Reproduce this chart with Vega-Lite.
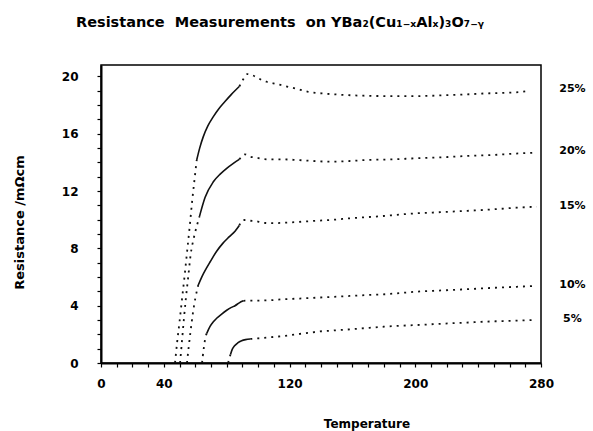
{
  "$schema": "https://vega.github.io/schema/vega-lite/v6.json",
  "width": 440,
  "height": 298,
  "autosize": {"type": "none"},
  "padding": {"left": 101, "top": 65, "right": 52, "bottom": 68},
  "background": "white",
  "config": {"view": {"stroke": "black", "strokeWidth": 1.5}, "font": "DejaVu Sans"},
  "title": {
    "text": "Resistance\u00a0\u00a0Measurements\u00a0\u00a0on YBa₂(Cu₁₋ₓAlₓ)₃O₇₋ᵧ",
    "anchor": "start", "frame": "group", "dx": -25, "offset": 24, "baseline": "alphabetic",
    "fontSize": 14.5, "fontWeight": "bold", "font": "DejaVu Sans", "color": "black"
  },
  "datasets": {
    "curves": [
      {"seg": "25a", "s": "dot", "T": 47.1, "R": 0},
      {"seg": "25a", "s": "dot", "T": 48.4, "R": 1.4},
      {"seg": "25a", "s": "dot", "T": 50.0, "R": 2.9},
      {"seg": "25a", "s": "dot", "T": 51.7, "R": 4.6},
      {"seg": "25a", "s": "dot", "T": 53.4, "R": 6.3},
      {"seg": "25a", "s": "dot", "T": 55.0, "R": 8.0},
      {"seg": "25a", "s": "dot", "T": 56.6, "R": 9.7},
      {"seg": "25a", "s": "dot", "T": 58.0, "R": 11.3},
      {"seg": "25a", "s": "dot", "T": 59.5, "R": 12.8},
      {"seg": "25a", "s": "dot", "T": 60.9, "R": 14.17},
      {"seg": "25b", "s": "solid", "T": 60.9, "R": 14.17},
      {"seg": "25b", "s": "solid", "T": 62.8, "R": 15.0},
      {"seg": "25b", "s": "solid", "T": 65.1, "R": 15.8},
      {"seg": "25b", "s": "solid", "T": 68.0, "R": 16.55},
      {"seg": "25b", "s": "solid", "T": 71.5, "R": 17.2},
      {"seg": "25b", "s": "solid", "T": 75.0, "R": 17.75},
      {"seg": "25b", "s": "solid", "T": 78.9, "R": 18.25},
      {"seg": "25b", "s": "solid", "T": 83.0, "R": 18.75},
      {"seg": "25b", "s": "solid", "T": 88.0, "R": 19.3},
      {"seg": "25c", "s": "dot", "T": 88.0, "R": 19.3},
      {"seg": "25c", "s": "dot", "T": 90.5, "R": 19.8},
      {"seg": "25c", "s": "dot", "T": 93.1, "R": 20.17},
      {"seg": "25c", "s": "dot", "T": 95.9, "R": 20.1},
      {"seg": "25c", "s": "dot", "T": 99.1, "R": 19.94},
      {"seg": "25c", "s": "dot", "T": 102.3, "R": 19.75},
      {"seg": "25c", "s": "dot", "T": 105.5, "R": 19.63},
      {"seg": "25c", "s": "dot", "T": 111.8, "R": 19.47},
      {"seg": "25c", "s": "dot", "T": 117.1, "R": 19.33},
      {"seg": "25c", "s": "dot", "T": 123.5, "R": 19.17},
      {"seg": "25c", "s": "dot", "T": 131.9, "R": 18.93},
      {"seg": "25c", "s": "dot", "T": 140.5, "R": 18.82},
      {"seg": "25c", "s": "dot", "T": 148.9, "R": 18.75},
      {"seg": "25c", "s": "dot", "T": 156.4, "R": 18.7},
      {"seg": "25c", "s": "dot", "T": 169.1, "R": 18.65},
      {"seg": "25c", "s": "dot", "T": 183.9, "R": 18.63},
      {"seg": "25c", "s": "dot", "T": 198.7, "R": 18.63},
      {"seg": "25c", "s": "dot", "T": 209.4, "R": 18.65},
      {"seg": "25c", "s": "dot", "T": 220.0, "R": 18.7},
      {"seg": "25c", "s": "dot", "T": 232.7, "R": 18.75},
      {"seg": "25c", "s": "dot", "T": 245.5, "R": 18.82},
      {"seg": "25c", "s": "dot", "T": 258.2, "R": 18.86},
      {"seg": "25c", "s": "dot", "T": 266.6, "R": 18.91},
      {"seg": "25c", "s": "dot", "T": 273.0, "R": 19.0},

      {"seg": "20a", "s": "dot", "T": 50.3, "R": 0},
      {"seg": "20a", "s": "dot", "T": 51.5, "R": 1.5},
      {"seg": "20a", "s": "dot", "T": 52.7, "R": 3.0},
      {"seg": "20a", "s": "dot", "T": 54.0, "R": 4.5},
      {"seg": "20a", "s": "dot", "T": 55.5, "R": 6.0},
      {"seg": "20a", "s": "dot", "T": 57.1, "R": 7.6},
      {"seg": "20a", "s": "dot", "T": 59.0, "R": 8.7},
      {"seg": "20a", "s": "dot", "T": 60.8, "R": 9.5},
      {"seg": "20a", "s": "dot", "T": 62.6, "R": 10.2},
      {"seg": "20b", "s": "solid", "T": 62.6, "R": 10.2},
      {"seg": "20b", "s": "solid", "T": 66.2, "R": 11.55},
      {"seg": "20b", "s": "solid", "T": 71.5, "R": 12.65},
      {"seg": "20b", "s": "solid", "T": 76.0, "R": 13.2},
      {"seg": "20b", "s": "solid", "T": 80.0, "R": 13.59},
      {"seg": "20b", "s": "solid", "T": 84.0, "R": 13.92},
      {"seg": "20b", "s": "solid", "T": 88.0, "R": 14.21},
      {"seg": "20c", "s": "dot", "T": 88.0, "R": 14.21},
      {"seg": "20c", "s": "dot", "T": 91.6, "R": 14.56},
      {"seg": "20c", "s": "dot", "T": 94.8, "R": 14.4},
      {"seg": "20c", "s": "dot", "T": 99.1, "R": 14.33},
      {"seg": "20c", "s": "dot", "T": 103.3, "R": 14.24},
      {"seg": "20c", "s": "dot", "T": 107.6, "R": 14.21},
      {"seg": "20c", "s": "dot", "T": 116.0, "R": 14.21},
      {"seg": "20c", "s": "dot", "T": 124.5, "R": 14.17},
      {"seg": "20c", "s": "dot", "T": 135.1, "R": 14.1},
      {"seg": "20c", "s": "dot", "T": 145.7, "R": 14.05},
      {"seg": "20c", "s": "dot", "T": 158.5, "R": 14.1},
      {"seg": "20c", "s": "dot", "T": 169.1, "R": 14.17},
      {"seg": "20c", "s": "dot", "T": 183.9, "R": 14.21},
      {"seg": "20c", "s": "dot", "T": 198.7, "R": 14.28},
      {"seg": "20c", "s": "dot", "T": 215.7, "R": 14.35},
      {"seg": "20c", "s": "dot", "T": 232.7, "R": 14.45},
      {"seg": "20c", "s": "dot", "T": 249.7, "R": 14.52},
      {"seg": "20c", "s": "dot", "T": 262.4, "R": 14.61},
      {"seg": "20c", "s": "dot", "T": 277.3, "R": 14.68},

      {"seg": "15a", "s": "dot", "T": 54.7, "R": 0},
      {"seg": "15a", "s": "dot", "T": 55.9, "R": 1.2},
      {"seg": "15a", "s": "dot", "T": 57.2, "R": 2.4},
      {"seg": "15a", "s": "dot", "T": 58.5, "R": 3.5},
      {"seg": "15a", "s": "dot", "T": 60.0, "R": 4.5},
      {"seg": "15a", "s": "dot", "T": 61.9, "R": 5.44},
      {"seg": "15b", "s": "solid", "T": 61.9, "R": 5.44},
      {"seg": "15b", "s": "solid", "T": 64.1, "R": 6.0},
      {"seg": "15b", "s": "solid", "T": 67.0, "R": 6.6},
      {"seg": "15b", "s": "solid", "T": 69.4, "R": 7.05},
      {"seg": "15b", "s": "solid", "T": 73.6, "R": 7.8},
      {"seg": "15b", "s": "solid", "T": 77.5, "R": 8.35},
      {"seg": "15b", "s": "solid", "T": 81.5, "R": 8.8},
      {"seg": "15b", "s": "solid", "T": 85.3, "R": 9.2},
      {"seg": "15b", "s": "solid", "T": 88.0, "R": 9.6},
      {"seg": "15c", "s": "dot", "T": 88.0, "R": 9.6},
      {"seg": "15c", "s": "dot", "T": 90.0, "R": 9.95},
      {"seg": "15c", "s": "dot", "T": 91.6, "R": 9.98},
      {"seg": "15c", "s": "dot", "T": 94.8, "R": 9.93},
      {"seg": "15c", "s": "dot", "T": 98.0, "R": 9.91},
      {"seg": "15c", "s": "dot", "T": 101.2, "R": 9.84},
      {"seg": "15c", "s": "dot", "T": 105.4, "R": 9.77},
      {"seg": "15c", "s": "dot", "T": 110.0, "R": 9.76},
      {"seg": "15c", "s": "dot", "T": 116.0, "R": 9.79},
      {"seg": "15c", "s": "dot", "T": 126.0, "R": 9.85},
      {"seg": "15c", "s": "dot", "T": 137.3, "R": 9.93},
      {"seg": "15c", "s": "dot", "T": 148.0, "R": 10.0},
      {"seg": "15c", "s": "dot", "T": 158.5, "R": 10.1},
      {"seg": "15c", "s": "dot", "T": 169.0, "R": 10.18},
      {"seg": "15c", "s": "dot", "T": 179.6, "R": 10.26},
      {"seg": "15c", "s": "dot", "T": 190.0, "R": 10.36},
      {"seg": "15c", "s": "dot", "T": 200.9, "R": 10.45},
      {"seg": "15c", "s": "dot", "T": 211.0, "R": 10.5},
      {"seg": "15c", "s": "dot", "T": 222.1, "R": 10.56},
      {"seg": "15c", "s": "dot", "T": 233.0, "R": 10.62},
      {"seg": "15c", "s": "dot", "T": 243.3, "R": 10.68},
      {"seg": "15c", "s": "dot", "T": 254.0, "R": 10.76},
      {"seg": "15c", "s": "dot", "T": 264.5, "R": 10.84},
      {"seg": "15c", "s": "dot", "T": 277.3, "R": 10.91},

      {"seg": "10a", "s": "dot", "T": 64.3, "R": 0},
      {"seg": "10a", "s": "dot", "T": 64.8, "R": 0.5},
      {"seg": "10a", "s": "dot", "T": 65.5, "R": 1.1},
      {"seg": "10a", "s": "dot", "T": 66.3, "R": 1.7},
      {"seg": "10a", "s": "dot", "T": 67.3, "R": 2.07},
      {"seg": "10b", "s": "solid", "T": 67.3, "R": 2.07},
      {"seg": "10b", "s": "solid", "T": 69.4, "R": 2.55},
      {"seg": "10b", "s": "solid", "T": 71.5, "R": 2.88},
      {"seg": "10b", "s": "solid", "T": 73.6, "R": 3.12},
      {"seg": "10b", "s": "solid", "T": 76.8, "R": 3.42},
      {"seg": "10b", "s": "solid", "T": 80.0, "R": 3.68},
      {"seg": "10b", "s": "solid", "T": 83.0, "R": 3.88},
      {"seg": "10b", "s": "solid", "T": 85.3, "R": 4.0},
      {"seg": "10b", "s": "solid", "T": 88.0, "R": 4.2},
      {"seg": "10b", "s": "solid", "T": 90.6, "R": 4.34},
      {"seg": "10c", "s": "dot", "T": 90.6, "R": 4.34},
      {"seg": "10c", "s": "dot", "T": 94.8, "R": 4.36},
      {"seg": "10c", "s": "dot", "T": 101.2, "R": 4.36},
      {"seg": "10c", "s": "dot", "T": 107.6, "R": 4.38},
      {"seg": "10c", "s": "dot", "T": 116.0, "R": 4.45},
      {"seg": "10c", "s": "dot", "T": 126.5, "R": 4.5},
      {"seg": "10c", "s": "dot", "T": 137.3, "R": 4.56},
      {"seg": "10c", "s": "dot", "T": 148.0, "R": 4.62},
      {"seg": "10c", "s": "dot", "T": 158.5, "R": 4.68},
      {"seg": "10c", "s": "dot", "T": 169.0, "R": 4.74},
      {"seg": "10c", "s": "dot", "T": 179.6, "R": 4.79},
      {"seg": "10c", "s": "dot", "T": 190.0, "R": 4.88},
      {"seg": "10c", "s": "dot", "T": 200.9, "R": 4.98},
      {"seg": "10c", "s": "dot", "T": 211.5, "R": 5.04},
      {"seg": "10c", "s": "dot", "T": 222.1, "R": 5.09},
      {"seg": "10c", "s": "dot", "T": 232.7, "R": 5.15},
      {"seg": "10c", "s": "dot", "T": 243.3, "R": 5.21},
      {"seg": "10c", "s": "dot", "T": 254.0, "R": 5.27},
      {"seg": "10c", "s": "dot", "T": 264.5, "R": 5.32},
      {"seg": "10c", "s": "dot", "T": 275.1, "R": 5.37},

      {"seg": "5a", "s": "dot", "T": 80.9, "R": 0},
      {"seg": "5a", "s": "dot", "T": 81.6, "R": 0.3},
      {"seg": "5a", "s": "dot", "T": 82.4, "R": 0.6},
      {"seg": "5b", "s": "solid", "T": 82.4, "R": 0.6},
      {"seg": "5b", "s": "solid", "T": 83.5, "R": 0.95},
      {"seg": "5b", "s": "solid", "T": 85.0, "R": 1.2},
      {"seg": "5b", "s": "solid", "T": 87.0, "R": 1.4},
      {"seg": "5b", "s": "solid", "T": 89.5, "R": 1.55},
      {"seg": "5b", "s": "solid", "T": 92.0, "R": 1.63},
      {"seg": "5b", "s": "solid", "T": 95.0, "R": 1.68},
      {"seg": "5c", "s": "dot", "T": 95.0, "R": 1.68},
      {"seg": "5c", "s": "dot", "T": 100.0, "R": 1.72},
      {"seg": "5c", "s": "dot", "T": 105.5, "R": 1.77},
      {"seg": "5c", "s": "dot", "T": 111.0, "R": 1.83},
      {"seg": "5c", "s": "dot", "T": 116.0, "R": 1.88},
      {"seg": "5c", "s": "dot", "T": 121.0, "R": 1.95},
      {"seg": "5c", "s": "dot", "T": 126.5, "R": 2.03},
      {"seg": "5c", "s": "dot", "T": 132.0, "R": 2.1},
      {"seg": "5c", "s": "dot", "T": 137.3, "R": 2.18},
      {"seg": "5c", "s": "dot", "T": 148.0, "R": 2.27},
      {"seg": "5c", "s": "dot", "T": 158.5, "R": 2.35},
      {"seg": "5c", "s": "dot", "T": 169.0, "R": 2.44},
      {"seg": "5c", "s": "dot", "T": 179.6, "R": 2.53},
      {"seg": "5c", "s": "dot", "T": 190.0, "R": 2.6},
      {"seg": "5c", "s": "dot", "T": 200.9, "R": 2.65},
      {"seg": "5c", "s": "dot", "T": 211.5, "R": 2.71},
      {"seg": "5c", "s": "dot", "T": 222.1, "R": 2.77},
      {"seg": "5c", "s": "dot", "T": 232.7, "R": 2.82},
      {"seg": "5c", "s": "dot", "T": 243.3, "R": 2.88},
      {"seg": "5c", "s": "dot", "T": 256.0, "R": 2.93},
      {"seg": "5c", "s": "dot", "T": 268.7, "R": 2.97},
      {"seg": "5c", "s": "dot", "T": 275.1, "R": 3.0}
    ],
    "labels": [
      {"label": "25%", "T": 300, "R": 19.12},
      {"label": "20%", "T": 300, "R": 14.79},
      {"label": "15%", "T": 300, "R": 10.96},
      {"label": "10%", "T": 300, "R": 5.44},
      {"label": "5%", "T": 300, "R": 3.07}
    ]
  },
  "encoding": {
    "x": {
      "field": "T", "type": "quantitative",
      "scale": {"domain": [0, 280], "nice": false, "zero": false},
      "axis": {
        "values": [0,10,20,30,40,50,60,70,80,90,100,110,120,130,140,150,160,170,180,190,200,210,220,230,240,250,260,270,280],
        "labelExpr": "indexof([0,40,120,200,280], datum.value) >= 0 ? datum.label : ''",
        "grid": false, "tickSize": 4, "tickWidth": 1.2, "tickColor": "black",
        "domainColor": "black", "domainWidth": 2,
        "labelFont": "DejaVu Sans", "labelFontWeight": "bold", "labelFontSize": 12, "labelColor": "black",
        "labelPadding": 11, "labelFlush": false, "labelOverlap": false,
        "title": "Temperature", "titleX": 265.5, "titleY": 64, "titleBaseline": "alphabetic", "titleAlign": "center",
        "titleFont": "DejaVu Sans", "titleFontSize": 12, "titleFontWeight": "bold", "titleColor": "black"
      }
    },
    "y": {
      "field": "R", "type": "quantitative",
      "scale": {"domain": [0, 20.8], "nice": false},
      "axis": {
        "values": [0,1,2,3,4,5,6,7,8,9,10,11,12,13,14,15,16,17,18,19,20],
        "labelExpr": "datum.value % 4 == 0 ? datum.label : ''",
        "grid": false, "tickSize": 4, "tickWidth": 1.2, "tickColor": "black",
        "domainColor": "black", "domainWidth": 2,
        "labelFont": "DejaVu Sans", "labelFontWeight": "bold", "labelFontSize": 12, "labelColor": "black",
        "labelPadding": 19, "labelBaseline": "middle", "labelFlush": false, "labelOverlap": false,
        "title": "Resistance /mΩcm", "titleX": -77.7, "titleY": 157, "titleAngle": -90,
        "titleBaseline": "alphabetic", "titleAlign": "center",
        "titleFont": "DejaVu Sans", "titleFontSize": 13, "titleFontWeight": "bold", "titleColor": "black"
      }
    }
  },
  "layer": [
    {
      "data": {"name": "curves"},
      "transform": [{"filter": "datum.s == 'dot'"}],
      "mark": {"type": "line", "interpolate": "monotone", "strokeDash": [2, 5], "strokeWidth": 1.8, "color": "#111"},
      "encoding": {"detail": {"field": "seg", "type": "nominal"}}
    },
    {
      "data": {"name": "curves"},
      "transform": [{"filter": "datum.s == 'solid'"}],
      "mark": {"type": "line", "interpolate": "monotone", "strokeWidth": 1.6, "color": "#111"},
      "encoding": {"detail": {"field": "seg", "type": "nominal"}}
    },
    {
      "data": {"name": "labels"},
      "mark": {"type": "text", "font": "DejaVu Sans", "fontWeight": "bold", "fontSize": 11, "align": "center", "baseline": "middle", "color": "black"},
      "encoding": {"text": {"field": "label", "type": "nominal"}}
    }
  ]
}
